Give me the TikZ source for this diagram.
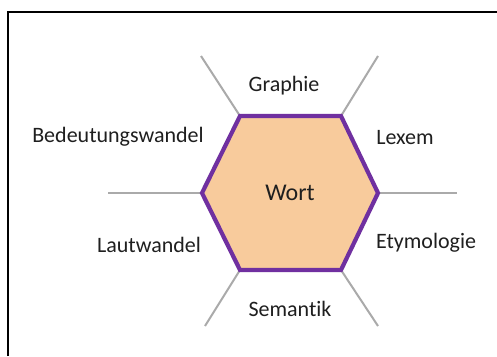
\documentclass[tikz,border=0pt]{standalone}
\usepackage{fontspec}
\setmainfont[Ligatures=NoCommon]{Carlito}
\definecolor{hexfill}{HTML}{F8CB9C}
\definecolor{hexline}{HTML}{7030A0}
\definecolor{spoke}{HTML}{AAAAAA}
\begin{document}
\begin{tikzpicture}[x=1pt,y=-1pt,
  lbl/.style={font=\fontsize{22}{26}\selectfont, text=black!88, inner sep=0pt},
  spokeline/.style={draw=spoke, line width=2pt},
  frameline/.style={draw=black, line width=1.2pt}]
\useasboundingbox (0,0) rectangle (497,356);
\fill[white] (0,0) rectangle (497,356);
% frame
\coordinate (f1) at (8,356);
\coordinate (f2) at (8,12);
\coordinate (f3) at (497,12);
\draw[frameline] (f1) -- (f2) -- (f3);
% hexagon vertices
\coordinate (tl) at (240,116);
\coordinate (tr) at (341,116);
\coordinate (r) at (378,193);
\coordinate (br) at (341,270);
\coordinate (bl) at (240,270);
\coordinate (l) at (202,193);
% spoke ends
\coordinate (etl) at (201,56);
\coordinate (etr) at (378,56);
\coordinate (el) at (108,193);
\coordinate (er) at (457,193);
\coordinate (ebl) at (205,326);
\coordinate (ebr) at (378,326);
\draw[spokeline] (tl) -- (etl);
\draw[spokeline] (tr) -- (etr);
\draw[spokeline] (l) -- (el);
\draw[spokeline] (r) -- (er);
\draw[spokeline] (bl) -- (ebl);
\draw[spokeline] (br) -- (ebr);
\filldraw[fill=hexfill, draw=hexline, line width=4.2pt, line join=miter]
  (tl) -- (tr) -- (r) -- (br) -- (bl) -- (l) -- cycle;
\node[lbl, font=\fontsize{24}{28}\selectfont] (wort) at (290,193) {Wort};
\node[lbl] (graphie) at (284,86) {Graphie};
\node[lbl] (bedeutung) at (118,137) {Bedeutungswandel};
\node[lbl] (lexem) at (405,138) {Lexem};
\node[lbl] (laut) at (149,245) {Lautwandel};
\node[lbl] (etym) at (426,243) {Etymologie};
\node[lbl] (sem) at (290,309) {Semantik};
\end{tikzpicture}
\end{document}
